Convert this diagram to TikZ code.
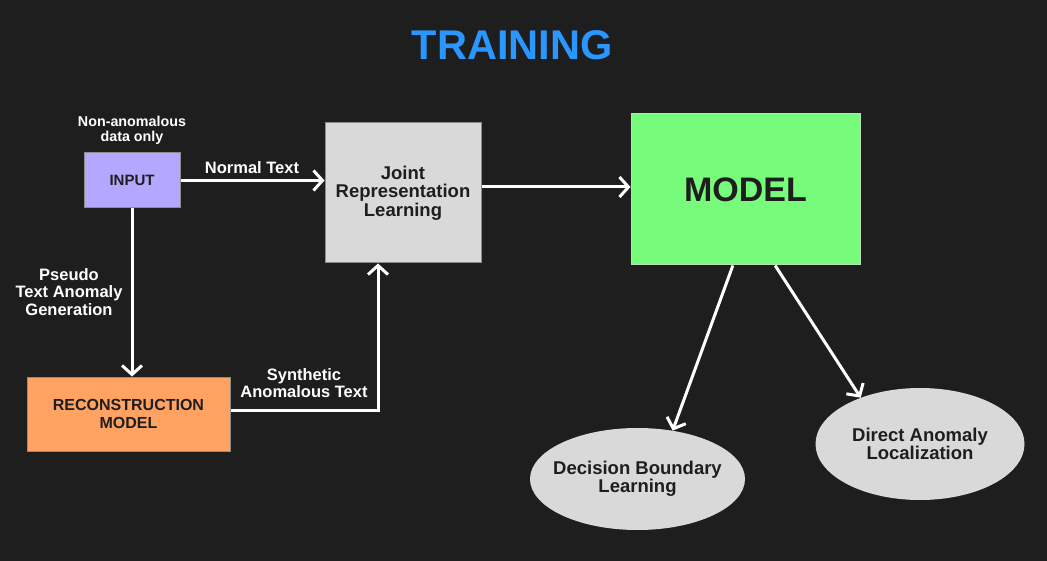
\documentclass[tikz,border=0pt]{standalone}
\usepackage{fontspec}
\setmainfont{Liberation Sans}
\usepackage{xcolor}
\usetikzlibrary{arrows.meta,positioning,shapes.geometric,calc}

\definecolor{bgdark}{RGB}{30,30,30}
\definecolor{inkdark}{RGB}{30,30,30}
\definecolor{titleblue}{RGB}{41,151,255}
\definecolor{inputlav}{RGB}{180,167,255}
\definecolor{jointgray}{RGB}{217,217,217}
\definecolor{modelgreen}{RGB}{118,251,122}
\definecolor{reconorange}{RGB}{255,162,98}

\begin{document}
\begin{tikzpicture}[
  x=1pt, y=-1pt,
  font=\bfseries,
  box/.style={draw=black!45, line width=1pt, inner sep=0pt, align=center,
    text=inkdark},
  inputbox/.style={box, fill=inputlav, minimum width=96pt, minimum height=55pt,
    font=\bfseries\fontsize{15}{17}\selectfont},
  jointbox/.style={box, fill=jointgray, minimum width=156pt, minimum height=140pt,
    font=\bfseries\fontsize{18.5}{18.5}\selectfont},
  modelbox/.style={box, draw=modelgreen!70!black!40, fill=modelgreen,
    minimum width=229pt, minimum height=151pt,
    font=\bfseries\fontsize{34}{36}\selectfont},
  reconbox/.style={box, fill=reconorange, minimum width=203pt, minimum height=74pt,
    font=\bfseries\fontsize{16}{18.5}\selectfont},
  outcome/.style={ellipse, fill=jointgray, inner sep=-20pt, align=center,
    text=inkdark, font=\bfseries\fontsize{18.5}{18}\selectfont},
  lbl/.style={text=white, align=center, inner sep=0pt,
    font=\bfseries\fontsize{16.5}{17.5}\selectfont},
  arrow/.style={-{Straight Barb[length=9pt,width=20pt]}, line width=3pt,
    draw=white}
]
  \fill[bgdark] (0,0) rectangle (1047,561);

  \node[text=titleblue, font=\bfseries\fontsize{41.5}{44}\selectfont]
    (title) at (512,45) {TRAINING};

  \node[inputbox] (input) at (132,180.5) {INPUT};
  \node[jointbox] (joint) at (403,193) {Joint\\Representation\\Learning};
  \node[modelbox] (model) at (745.5,189.5) {MODEL};
  \node[reconbox] (recon) at (128.5,414) {RECONSTRUCTION\\MODEL};
  \node[outcome, minimum width=215pt, minimum height=102pt] (dbl)
    at (637.5,479) {Decision Boundary\\Learning};
  \node[outcome, minimum width=209pt, minimum height=112pt] (dal)
    at (920,444) {Direct Anomaly\\Localization};

  \node[lbl, font=\bfseries\fontsize{14.3}{14.5}\selectfont,
    above=8pt of input] (only) {Non-anomalous\\data only};
  \node[lbl] (normal) at (252,168) {Normal Text};
  \node[lbl] (pseudo) at (69,292) {Pseudo\\Text Anomaly\\Generation};
  \node[lbl] (synth) at (304,383) {Synthetic\\Anomalous Text};

  \coordinate (mleft) at ($(model.south west)!0.445!(model.south east)$);
  \coordinate (mright) at ($(model.south west)!0.629!(model.south east)$);

  \draw[arrow] (input.east) -- (input.east -| joint.west);
  \draw[arrow] ([yshift=6pt]joint.east) -- ([yshift=6pt]joint.east -| model.west);
  \draw[arrow] (input.south) -- (input.south |- recon.north);
  \draw[arrow] ([yshift=4pt]recon.east) -| ([xshift=-25pt]joint.south);
  \draw[arrow] (mleft) -- (dbl.54);
  \draw[arrow] (mright) -- (dal.142);
\end{tikzpicture}
\end{document}
